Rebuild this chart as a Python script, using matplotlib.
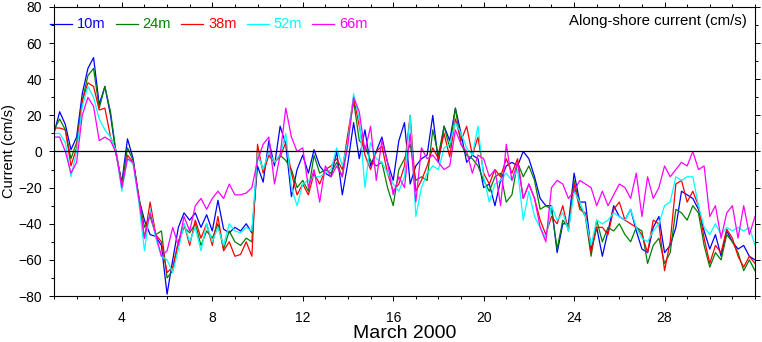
import numpy as np
import matplotlib.pyplot as plt

plt.rcParams["font.family"] = ["Liberation Sans", "DejaVu Sans"]

# 6-hourly samples, day of month (1 = 1 March 00:00) .. 32 = 1 April
day_start = 1.0
day_step = 0.25

depths = ["10m", "24m", "38m", "52m", "66m"]
colors = ["#0000ff", "#008000", "#ff0000", "#00ffff", "#ff00ff"]

u10 = [10, 22, 15, 1, 8, 32, 46, 52, 26, 36, 20, -2, -17, 7, -4, -26, -38,
       -46, -47, -52, -79, -60, -42, -34, -38, -34, -42, -35, -44, -27, -43, -45, -42,
       -44, -40, -45, -8, -17, 6, -8, 14, 4, -25, -10, -2, -12, 1, -8, -12,
       -14, 0, -24, -6, 16, -4, 12, -8, 0, 8, -6, -16, 6, 16, -18, -8,
       -4, -2, 20, -6, 14, 6, 24, 10, -6, -2, -4, -20, -18, -30, -16, -8,
       -6, -8, 0, -4, -14, -26, -30, -30, -56, -40, -40, -12, -28, -28, -54, -42,
       -58, -44, -30, -36, -38, -32, -44, -54, -56, -42, -36, -56, -52, -42, -22, -24,
       -26, -32, -44, -54, -46, -58, -44, -50, -54, -52, -58, -60]

u24 = [12, 18, 12, -4, 5, 28, 42, 46, 24, 36, 22, -1, -18, 2, -5, -25, -42,
       -36, -46, -44, -70, -66, -50, -42, -45, -40, -52, -44, -48, -40, -54, -44, -50,
       -52, -48, -50, -1, -10, -2, -6, -2, -5, -10, -20, -16, -22, -2, -12, -10,
       -12, -6, -14, 8, 28, 6, 3, -5, -8, -6, -20, -30, -10, -4, 4, -16,
       -14, -16, 12, -2, 14, 2, 24, 4, -2, -4, -8, -16, -22, -14, -12, -28,
       -24, -6, -14, -8, -16, -32, -30, -32, -54, -38, -42, -16, -30, -36, -58, -38,
       -50, -42, -44, -40, -46, -50, -42, -44, -62, -52, -48, -62, -56, -32, -34, -38,
       -30, -34, -52, -64, -56, -60, -46, -50, -56, -66, -60, -66]

u38 = [13, 13, 12, -8, 2, 28, 38, 36, 23, 24, 8, 0, -20, -2, -6, -25, -48,
       -28, -46, -50, -67, -64, -50, -40, -52, -38, -48, -40, -52, -36, -55, -50, -58,
       -57, -50, -58, 4, -12, -2, -6, -3, 5, -12, -24, -18, -24, -12, -18, -10,
       -8, -4, -10, 10, 30, 14, -2, -10, 0, 3, -12, -22, -18, -8, 20, -22,
       -16, -8, 2, -4, 10, -3, 18, 6, 14, -2, 8, -12, -18, -10, -14, -4,
       -12, -4, -26, -18, -26, -38, -46, -36, -40, -30, -44, -18, -32, -34, -56, -42,
       -42, -46, -32, -28, -38, -40, -42, -46, -56, -38, -40, -66, -50, -18, -16, -28,
       -22, -30, -48, -62, -52, -56, -43, -48, -58, -64, -58, -62]

u52 = [10, 10, 5, -14, 0, 25, 36, 30, 18, 12, 8, 0, -22, -4, -7, -28, -55,
       -32, -48, -58, -60, -67, -54, -40, -50, -42, -55, -40, -50, -42, -52, -40, -44,
       -45, -42, -44, -1, -10, 0, -6, -2, 10, -20, -30, -18, -16, -14, -14, -12,
       -10, 2, -8, 6, 32, 18, -20, 5, -4, -6, -12, -18, -22, -14, 20, -36,
       -20, -12, -8, -10, 2, 4, 16, 10, 2, -2, 14, -14, -28, -18, -16, -12,
       -16, -10, -38, -22, -36, -42, -48, -30, -38, -34, -44, -22, -28, -36, -52, -38,
       -40, -38, -34, -36, -38, -32, -42, -48, -50, -44, -40, -30, -28, -14, -16, -14,
       -14, -30, -42, -46, -40, -46, -42, -44, -42, -44, -42, -52]

u66 = [8, 8, 0, -12, -6, 20, 30, 25, 6, 8, 6, -1, -20, -4, -6, -26, -48,
       -34, -46, -58, -55, -42, -52, -36, -44, -30, -26, -32, -26, -22, -26, -18, -24,
       -24, -23, -20, -5, 4, 8, -18, -2, 24, 8, 0, 2, -20, -10, -28, -8,
       -14, -8, -14, 4, 30, 22, 0, 14, -16, 6, -6, -24, -14, -20, 10, -28,
       2, -4, -2, -6, -10, -8, 12, 4, 0, -12, -2, -4, -14, -10, -30, 4,
       -16, -6, -26, -18, -26, -42, -50, -20, -16, -18, -26, -22, -16, -18, -20, -30,
       -22, -30, -24, -18, -20, -26, -12, -36, -14, -26, -20, -8, -14, -10, -6, -8,
       0, -10, -8, -36, -30, -48, -34, -30, -48, -30, -46, -36]

series = [u10, u24, u38, u52, u66]
days = day_start + day_step * np.arange(len(u10))

fig = plt.figure(figsize=(7.62, 3.42), dpi=100)
ax = fig.add_axes([54 / 762, 1 - 296 / 342, 701 / 762, 289 / 342])

for vals, c in zip(series, colors):
    ax.plot(days, vals, color=c, lw=0.9)
ax.axhline(0, color="black", lw=0.9)

ax.set_xlim(1, 32)
ax.set_ylim(-80, 80)
ax.set_xticks(np.arange(4, 29, 4))
ax.set_xticks(np.arange(1, 33, 1), minor=True)
ax.set_yticks(np.arange(-80, 81, 20))
ax.set_yticks(np.arange(-80, 81, 10), minor=True)
ax.tick_params(which="both", direction="out", top=True, right=True,
               labelsize=10, width=0.7)
ax.tick_params(which="major", length=3.6)
ax.tick_params(which="minor", length=2.2)
ax.tick_params(axis="x", pad=7)
ax.tick_params(axis="y", pad=5)
for s in ax.spines.values():
    s.set_linewidth(0.8)

# legend drawn by hand along the top of the frame
for i, (lab, c) in enumerate(zip(depths, colors)):
    x0 = (50 + 65.5 * i - 54) / 701
    ax.plot([x0, x0 + 22 / 701], [0.941, 0.941], color=c, lw=0.9,
            transform=ax.transAxes, clip_on=False)
    ax.text(x0 + 27 / 701, 0.941, lab, color=c, fontsize=10.5,
            transform=ax.transAxes, va="center", ha="left")

ax.text(0.988, 0.95, "Along-shore current (cm/s)", fontsize=10.8,
        transform=ax.transAxes, ha="right", va="center")

fig.text(9 / 762, 1 - 151.5 / 342, "Current (cm/s)", rotation=90,
         ha="center", va="center", fontsize=10.5)
fig.text(404.5 / 762, 1 - 334 / 342, "March 2000", ha="center", va="center",
         fontsize=14)

fig.savefig("out.png", dpi=100)
